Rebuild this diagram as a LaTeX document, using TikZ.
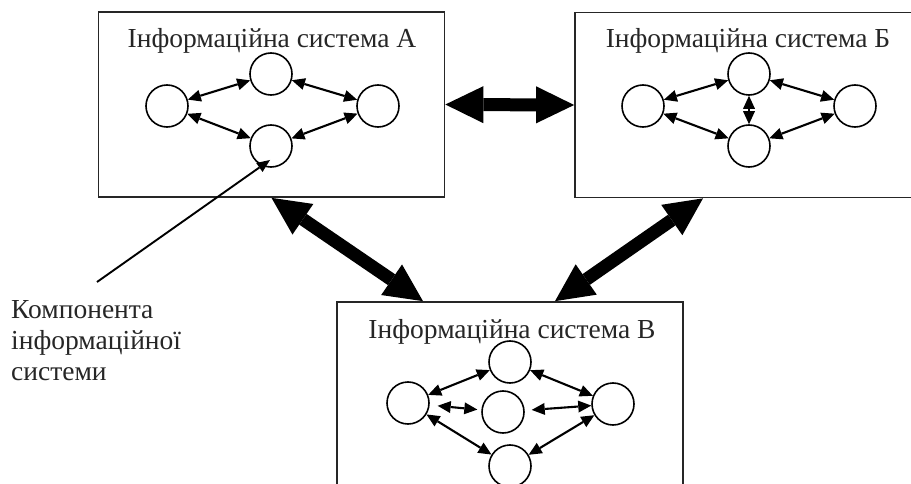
\documentclass[tikz,border=0pt]{standalone}
\usepackage{fontspec}
\setmainfont{Liberation Serif}
\usetikzlibrary{arrows.meta}

\begin{document}
\begin{tikzpicture}[x=1pt, y=-1pt,
    sys box/.style={draw=black!85, line width=1.7pt, minimum width=346pt, minimum height=185pt, inner sep=0pt},
    comp node/.style={circle, draw, line width=1.6pt, minimum size=42pt, inner sep=0pt},
    small arrow/.style={{Triangle[length=13pt,width=12pt,line width=0pt]}-{Triangle[length=13pt,width=12pt,line width=0pt]}, line width=2.1pt},
    big arrow/.style={{Triangle[length=38pt,width=37pt,line width=0pt]}-{Triangle[length=38pt,width=37pt,line width=0pt]}, line width=13pt}]
            \tikzstyle{every node}=[font=\fontsize{27.5}{31}\selectfont]

              \useasboundingbox (0,0) rectangle (911,484);

              \node[sys box] (A) at (271.5,104.5) {};
              \node[sys box] (B) at (748,105) {};
              \node[sys box] (C) at (510,394.5) {};

              \node[anchor=base, text=black!85] (tA) at (272,47.5) {Інформаційна система А};
              \node[anchor=base, text=black!85] (tB) at (748,47.5) {Інформаційна система Б};
              \node[anchor=base, text=black!85] (tC) at (512,338) {Інформаційна система В};

              \node[comp node] (a1) at (167,106) {};
              \node[comp node] (a2) at (271,74) {};
              \node[comp node] (a3) at (271,146) {};
              \node[comp node] (a4) at (378,106) {};

              \node[comp node] (b1) at (643,106) {};
              \node[comp node] (b2) at (749,74) {};
              \node[comp node] (b3) at (749,146) {};
              \node[comp node] (b4) at (855,106) {};

              \node[comp node] (c1) at (408,403) {};
              \node[comp node] (c2) at (510,362) {};
              \node[comp node] (c3) at (503,412) {};
              \node[comp node] (c4) at (613,404) {};
              \node[comp node] (c5) at (510,466) {};

              \path[small arrow]
                (a1) edge (a2)
                (a2) edge (a4)
                (a1) edge (a3)
                (a3) edge (a4)
                (b1) edge (b2)
                (b2) edge (b4)
                (b1) edge (b3)
                (b3) edge (b4)
                (b2) edge (b3)
                (c1) edge (c2)
                (c2) edge (c4)
                (c1) edge (c5)
                (c5) edge (c4)
                (c1) edge[shorten <=8pt, shorten >=4pt] (c3)
                (c3) edge[shorten <=7pt] (c4);

              \path[big arrow]
                (A.east) edge (B.west)
                (A.south) edge ([xshift=-87pt]C.north)
                ([xshift=-45pt]B.south) edge ([xshift=45pt]C.north);

              \node[anchor=north west, align=left, inner sep=0pt, text=black!85] (lbl) at (11,300) {Компонента\\інформаційної\\системи};
              \coordinate (ptr) at (97,282);
              \draw[-{Triangle[length=13pt,width=11pt,line width=0pt]}, line width=1.9pt] (ptr) -- ([xshift=-1pt,yshift=-14pt]a3.center);

\end{tikzpicture}
\end{document}
